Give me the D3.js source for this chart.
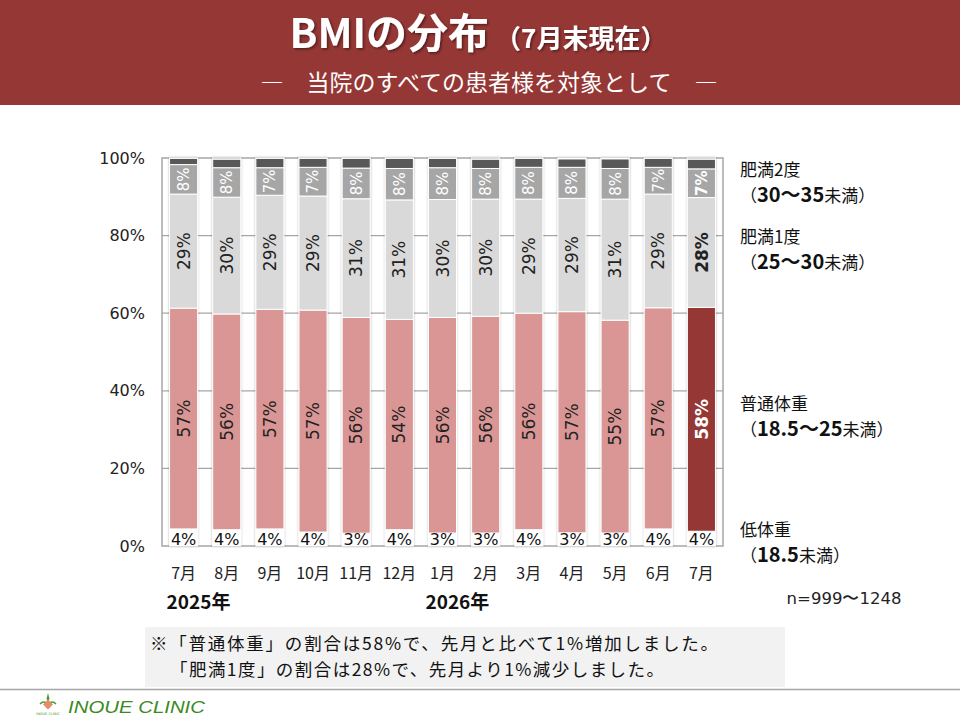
<!DOCTYPE html>
<html>
<head>
<meta charset="utf-8">
<script src="https://cdn.jsdelivr.net/npm/d3@7"></script>
<style>
  body { margin: 0; background: #fff; }
  svg { display: block; }
</style>
</head>
<body>
<svg id="chart" width="960" height="720"></svg>
<script>
// monthly share (%) per BMI group
const months = ["7月", "8月", "9月", "10月", "11月", "12月", "1月", "2月", "3月", "4月", "5月", "6月", "7月"];
const underweight = [4.4, 4.2, 4.4, 3.6, 3.3, 4.2, 3.35, 3.35, 4.2, 3.4, 3.35, 4.4, 3.8];
const normal = [56.9, 55.6, 56.6, 57.2, 55.6, 54.2, 55.55, 55.85, 55.8, 57.0, 54.85, 57.0, 57.7];
const obese1 = [29.4, 30.1, 29.4, 29.4, 30.6, 30.8, 30.4, 30.2, 29.4, 29.2, 31.2, 29.3, 28.3];
const obese2 = [7.6, 7.6, 7.1, 7.4, 7.9, 8.1, 8.2, 7.9, 8.2, 8.0, 7.9, 6.9, 7.4];
const obese3 = [1.6, 2.2, 2.4, 2.3, 2.5, 2.6, 2.4, 2.4, 2.3, 2.2, 2.5, 2.3, 2.5];
const obese4 = [0.1, 0.3, 0.1, 0.1, 0.1, 0.1, 0.1, 0.3, 0.1, 0.2, 0.2, 0.1, 0.3];
const yTicks = [0, 20, 40, 60, 80, 100];
const years = [{ label: "2025年", at: 0 }, { label: "2026年", at: 6 }];

const keys = ["under", "normal", "ob1", "ob2", "ob3", "ob4"];
const rows = months.map((m, i) => ({
  idx: i,
  month: m,
  under: underweight[i],
  normal: normal[i],
  ob1: obese1[i],
  ob2: obese2[i],
  ob3: obese3[i],
  ob4: obese4[i],
}));

const FILL = {
  under: "#FFFFFF",
  normal: "#DA9694",
  ob1: "#D9D9D9",
  ob2: "#A6A6A6",
  ob3: "#595959",
  ob4: "#1A1A1A",
};
const HILITE = "#953735";
const JP = "'Noto Sans CJK JP', 'Noto Sans', sans-serif";
const NUM = "'DejaVu Sans', sans-serif";

const svg = d3.select("#chart");
const last = months.length - 1;

// header band
svg.append("rect").attr("x", 0).attr("y", 0).attr("width", 960).attr("height", 105).attr("fill", "#953735");

const defs = svg.append("defs");
defs.append("filter").attr("id", "tshadow")
  .append("feDropShadow").attr("dx", 1.5).attr("dy", 1.5).attr("stdDeviation", 1)
  .attr("flood-color", "#000").attr("flood-opacity", 0.45);
defs.append("filter").attr("id", "bshadow").attr("x", "-30%").attr("width", "160%")
  .append("feDropShadow").attr("dx", 0).attr("dy", 0).attr("stdDeviation", 1.2)
  .attr("flood-color", "#000").attr("flood-opacity", 0.3);

const title = svg.append("text")
  .attr("x", 478).attr("y", 48)
  .attr("text-anchor", "middle")
  .attr("fill", "#fff")
  .attr("font-family", JP)
  .attr("font-weight", "bold")
  .attr("filter", "url(#tshadow)");
title.append("tspan").attr("font-size", 41).text("BMIの分布");
title.append("tspan").attr("font-size", 26).attr("dx", 6).text("（7月末現在）");

svg.append("text")
  .attr("x", 489).attr("y", 91)
  .attr("text-anchor", "middle")
  .attr("fill", "#fff")
  .attr("font-family", JP)
  .attr("font-size", 23)
  .attr("xml:space", "preserve")
  .text("―　当院のすべての患者様を対象として　―");

// plot area
const plotL = 162, plotR = 723, plotT = 158, plotB = 546;

const x = d3.scaleBand()
  .domain(rows.map((d) => d.idx))
  .range([plotL, plotR])
  .paddingInner(0.35)
  .paddingOuter(0.175);

const y = d3.scaleLinear().domain([0, 100]).range([plotB, plotT]);

// gridlines
svg.append("g")
  .selectAll("line")
  .data(yTicks.filter((t) => t > 0 && t < 100))
  .join("line")
  .attr("x1", plotL).attr("x2", plotR)
  .attr("y1", (d) => y(d)).attr("y2", (d) => y(d))
  .attr("stroke", "#A6A6A6")
  .attr("stroke-width", 1.2);

svg.append("rect")
  .attr("x", plotL).attr("y", plotT)
  .attr("width", plotR - plotL).attr("height", plotB - plotT)
  .attr("fill", "none")
  .attr("stroke", "#A6A6A6")
  .attr("stroke-width", 1.5);

// y labels
const yAxis = d3.axisLeft(y).tickValues(yTicks).tickFormat((d) => d + "%").tickSize(0).tickPadding(17);
svg.append("g")
  .attr("transform", `translate(${plotL},0)`)
  .call(yAxis)
  .call((g) => g.select(".domain").remove())
  .call((g) => g.selectAll("text")
    .attr("font-family", NUM)
    .attr("font-size", 16)
    .attr("fill", "#222"));

// bars
const stacked = d3.stack().keys(keys)(rows);

const barG = svg.append("g").attr("filter", "url(#bshadow)");
barG.selectAll("g")
  .data(stacked)
  .join("g")
  .selectAll("rect")
  .data((s) => s.map((d) => ({ key: s.key, d })))
  .join("rect")
  .attr("x", (p) => x(p.d.data.idx))
  .attr("width", x.bandwidth())
  .attr("y", (p) => y(p.d[1]))
  .attr("height", (p) => y(p.d[0]) - y(p.d[1]))
  .attr("fill", (p) => (p.key === "normal" && p.d.data.idx === last ? HILITE : FILL[p.key]))
  .attr("stroke", "#fff")
  .attr("stroke-width", 1);

// vertical segment labels
const fmt = (v) => Math.round(v) + "%";
const vLabelKeys = ["normal", "ob1", "ob2"];
const vLabels = [];
stacked.filter((s) => vLabelKeys.includes(s.key)).forEach((s) => {
  s.forEach((d) => vLabels.push({ key: s.key, d }));
});

svg.append("g")
  .selectAll("text")
  .data(vLabels)
  .join("text")
  .attr("transform", (p) => {
    const cx = x(p.d.data.idx) + x.bandwidth() / 2;
    const cy = (y(p.d[0]) + y(p.d[1])) / 2;
    return `translate(${cx},${cy}) rotate(-90)`;
  })
  .attr("text-anchor", "middle")
  .attr("dy", "0.36em")
  .attr("font-family", NUM)
  .attr("font-size", (p) => (p.key === "ob2" ? 15 : 17))
  .attr("font-weight", (p) => (p.d.data.idx === last ? "bold" : "normal"))
  .attr("fill", (p) => {
    if (p.key === "ob2") return "#fff";
    if (p.key === "normal" && p.d.data.idx === last) return "#fff";
    return "#222";
  })
  .text((p) => fmt(p.d[1] - p.d[0]));

// underweight labels, horizontal at bar foot
svg.append("g")
  .selectAll("text")
  .data(rows)
  .join("text")
  .attr("x", (d) => x(d.idx) + x.bandwidth() / 2)
  .attr("y", plotB - 1)
  .attr("text-anchor", "middle")
  .attr("font-family", NUM)
  .attr("font-size", 16)
  .attr("fill", "#111")
  .text((d) => fmt(d.under));

// month labels
svg.append("g")
  .selectAll("text")
  .data(rows)
  .join("text")
  .attr("x", (d) => x(d.idx) + x.bandwidth() / 2)
  .attr("y", 579)
  .attr("text-anchor", "middle")
  .attr("font-family", JP)
  .attr("font-size", 16)
  .attr("fill", "#222")
  .text((d) => d.month);

svg.append("g")
  .selectAll("text")
  .data(years)
  .join("text")
  .attr("x", (d) => x(d.at) - 3)
  .attr("y", 609)
  .attr("font-family", JP)
  .attr("font-size", 19)
  .attr("font-weight", "bold")
  .attr("fill", "#111")
  .text((d) => d.label);

// legend on the right
const legendItems = [
  { name: "肥満2度", range: ["30〜35", "未満"], y: 176 },
  { name: "肥満1度", range: ["25〜30", "未満"], y: 243 },
  { name: "普通体重", range: ["18.5〜25", "未満"], y: 410 },
  { name: "低体重", range: ["18.5", "未満"], y: 536 },
];
const lg = svg.append("g").attr("font-family", JP).attr("fill", "#111").attr("font-size", 17);
legendItems.forEach((it) => {
  lg.append("text").attr("x", 740).attr("y", it.y).text(it.name);
  const t = lg.append("text").attr("x", 740).attr("y", it.y + 26);
  t.append("tspan").text("（");
  t.append("tspan").attr("font-weight", "bold").attr("font-size", 20).text(it.range[0]);
  t.append("tspan").text(it.range[1] + "）");
});

svg.append("text")
  .attr("x", 844).attr("y", 604)
  .attr("text-anchor", "middle")
  .attr("font-family", NUM)
  .attr("font-size", 16.5)
  .attr("fill", "#222")
  .text("n=999〜1248");

// note box
svg.append("rect").attr("x", 145).attr("y", 627).attr("width", 640).attr("height", 60).attr("fill", "#F2F2F2");
const note = svg.append("g").attr("font-family", JP).attr("font-size", 17.5).attr("fill", "#111");
note.append("text").attr("x", 150).attr("y", 650)
  .attr("textLength", 568).attr("lengthAdjust", "spacing")
  .text("※「普通体重」の割合は58%で、先月と比べて1%増加しました。");
note.append("text").attr("x", 170).attr("y", 676)
  .attr("textLength", 494).attr("lengthAdjust", "spacing")
  .text("「肥満1度」の割合は28%で、先月より1%減少しました。");

// footer
svg.append("line").attr("x1", 0).attr("x2", 960).attr("y1", 689.5).attr("y2", 689.5)
  .attr("stroke", "#A6A6A6").attr("stroke-width", 1.5);

const logo = svg.append("g").attr("transform", "translate(48,705)");
logo.append("path").attr("d", "M-8,-1 Q-4,-5 -1,-1 M1,-1 Q4,-5 8,-1").attr("fill", "none").attr("stroke", "#4C9A2A").attr("stroke-width", 1.5);
logo.append("path").attr("d", "M0,-12 L1.5,-6 L0,-4 L-1.5,-6 Z").attr("fill", "#4C9A2A");
logo.append("rect").attr("x", -3.5).attr("y", -4).attr("width", 7).attr("height", 7)
  .attr("transform", "rotate(45,0,-0.5)").attr("fill", "#E58A6A");
logo.append("text").attr("x", 0).attr("y", 10).attr("text-anchor", "middle")
  .attr("font-family", NUM).attr("font-size", 3.5).attr("fill", "#4C9A2A").text("INOUE CLINIC");

svg.append("text")
  .attr("x", 68).attr("y", 713)
  .attr("font-family", "'Liberation Sans Narrow', 'Liberation Sans', sans-serif")
  .attr("font-style", "italic")
  .attr("font-size", 17)
  .attr("textLength", 137)
  .attr("lengthAdjust", "spacingAndGlyphs")
  .attr("fill", "#3A8A1E")
  .text("INOUE CLINIC");
</script>
</body>
</html>
